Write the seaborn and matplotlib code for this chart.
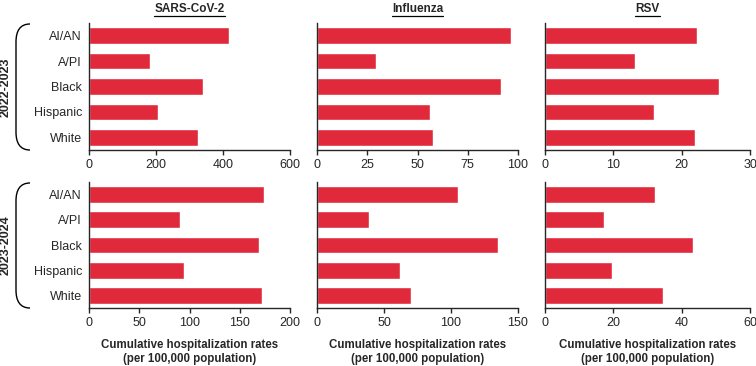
import numpy as np
import pandas as pd
import seaborn as sns
import matplotlib.pyplot as plt
from matplotlib.path import Path
from matplotlib.patches import PathPatch
from matplotlib.lines import Line2D

groups = ['AI/AN', 'A/PI', 'Black', 'Hispanic', 'White']
seasons = ['2022-2023', '2023-2024']
viruses = ['SARS-CoV-2', 'Influenza', 'RSV']

covid_2223 = [419, 181, 339, 207, 326]
flu_2223 = [96.7, 29.5, 91.5, 56.2, 57.9]
rsv_2223 = [22.3, 13.1, 25.4, 16.0, 21.9]
covid_2324 = [174, 90.3, 169.4, 94.2, 172.3]
flu_2324 = [105, 38.6, 135.3, 61.7, 69.9]
rsv_2324 = [32.2, 17.4, 43.2, 19.5, 34.6]

xmax = [[600, 100, 30], [200, 150, 60]]
xticks = [[[0, 200, 400, 600], [0, 25, 50, 75, 100], [0, 10, 20, 30]],
          [[0, 50, 100, 150, 200], [0, 50, 100, 150], [0, 20, 40, 60]]]

values = [[covid_2223, flu_2223, rsv_2223], [covid_2324, flu_2324, rsv_2324]]

red = '#E02A3C'
W, H = 756, 366

sns.set_style('ticks')
plt.rcParams['font.family'] = ['Liberation Sans', 'DejaVu Sans']
plt.rcParams['axes.linewidth'] = 1.0

fig = plt.figure(figsize=(W / 100, H / 100), dpi=100)

col_left = [89, 317, 545]
col_width = [201, 201, 205]
row_top = [23, 182]
row_height = [127, 126]

axes = []
for r in range(2):
    for c in range(3):
        ax = fig.add_axes([col_left[c] / W, 1 - (row_top[r] + row_height[r]) / H,
                           col_width[c] / W, row_height[r] / H])
        d = pd.DataFrame({'Group': groups, 'Rate': values[r][c]})
        sns.barplot(data=d, x='Rate', y='Group', orient='h', color=red,
                    width=0.66, saturation=1, ax=ax)
        ax.set_xlim(0, xmax[r][c])
        ax.set_xticks(xticks[r][c])
        ax.tick_params(axis='x', labelsize=9, length=3.5, width=1, pad=3)
        ax.tick_params(axis='y', labelsize=9, length=0, pad=5)
        sns.despine(ax=ax)
        ax.set_ylabel('')
        if c > 0:
            ax.set_yticklabels([])
        if r == 1:
            ax.set_xlabel('Cumulative hospitalization rates\n(per 100,000 population)',
                          fontsize=8.3, fontweight='bold', labelpad=7, linespacing=1.25)
        else:
            ax.set_xlabel('')
            ax.set_title(viruses[c], fontsize=8.5, fontweight='bold', pad=8)
        axes.append(ax)

# underline the titles
fig.canvas.draw()
renderer = fig.canvas.get_renderer()
for ax in axes[:3]:
    bb = ax.title.get_window_extent(renderer)
    y = (bb.y0 - 1) / H
    fig.add_artist(Line2D([bb.x0 / W, bb.x1 / W], [y, y], transform=fig.transFigure,
                          color='black', lw=0.9))

# curly brackets with season labels
for r in range(2):
    top = row_top[r] + 1
    bot = row_top[r] + row_height[r]
    pts = [(30, top), (20, top), (16, top + 7), (16, top + 18),
           (16, bot - 18),
           (16, bot - 7), (20, bot), (30, bot)]
    pts = [(x / W, 1 - y / H) for x, y in pts]
    codes = [Path.MOVETO, Path.CURVE4, Path.CURVE4, Path.CURVE4,
             Path.LINETO, Path.CURVE4, Path.CURVE4, Path.CURVE4]
    fig.add_artist(PathPatch(Path(pts, codes), transform=fig.transFigure,
                             fill=False, lw=1.0, color='black'))
    fig.text(5.5 / W, 1 - (top + bot) / 2 / H, seasons[r], rotation=90,
             ha='center', va='center', fontsize=9, fontweight='bold')

plt.savefig('out.png', dpi=100)
